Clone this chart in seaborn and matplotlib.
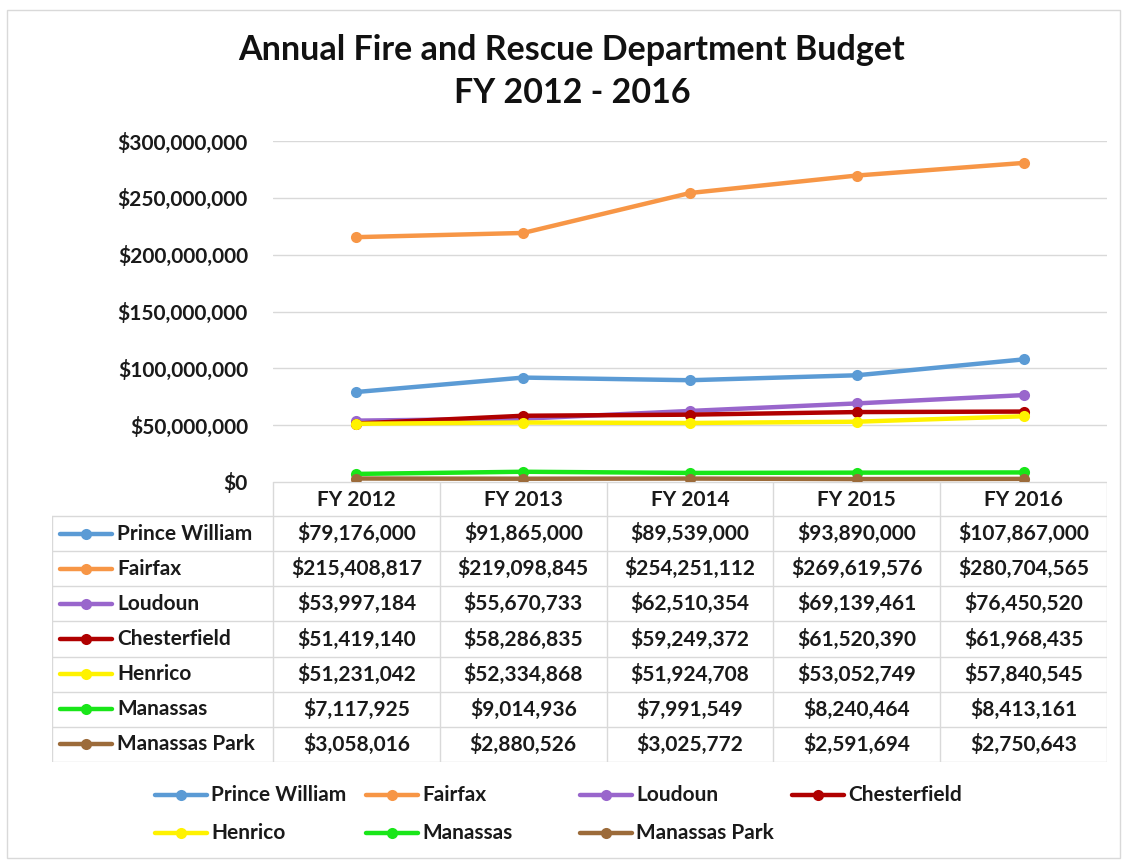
import numpy as np
import pandas as pd
import matplotlib
matplotlib.use('Agg')
import matplotlib.pyplot as plt
import seaborn as sns
from matplotlib.lines import Line2D
from matplotlib.patches import Rectangle
from matplotlib.ticker import FuncFormatter

years = ['FY 2012', 'FY 2013', 'FY 2014', 'FY 2015', 'FY 2016']
counties = ['Prince William', 'Fairfax', 'Loudoun', 'Chesterfield', 'Henrico', 'Manassas', 'Manassas Park']
prince_william = [79176000, 91865000, 89539000, 93890000, 107867000]
fairfax = [215408817, 219098845, 254251112, 269619576, 280704565]
loudoun = [53997184, 55670733, 62510354, 69139461, 76450520]
chesterfield = [51419140, 58286835, 59249372, 61520390, 61968435]
henrico = [51231042, 52334868, 51924708, 53052749, 57840545]
manassas = [7117925, 9014936, 7991549, 8240464, 8413161]
manassas_park = [3058016, 2880526, 3025772, 2591694, 2750643]
colors = ['#5B9BD5', '#F79646', '#9966CC', '#B00000', '#FFF200', '#19E619', '#9C6B3A']
yticks = [0, 50000000, 100000000, 150000000, 200000000, 250000000, 300000000]

series = [prince_william, fairfax, loudoun, chesterfield, henrico, manassas, manassas_park]
rows = []
for name, vals in zip(counties, series):
    for i, v in enumerate(vals):
        rows.append({'county': name, 'year': years[i], 'pos': i, 'budget': v})
df = pd.DataFrame(rows)

W, H = 1123, 861
def fx(x):
    return x / W
def fy(y):
    return 1 - y / H

FS = 15
TXT = '#1a1a1a'

sns.set_theme(style='white')
plt.rcParams['font.family'] = ['Lato', 'DejaVu Sans']
plt.rcParams['font.weight'] = 'bold'

fig = plt.figure(figsize=(W / 100, H / 100), dpi=100)
fig.patch.set_facecolor('white')
fig.patches.append(Rectangle((fx(7), fy(858)), fx(1120) - fx(7), fy(10) - fy(858),
                             transform=fig.transFigure, fill=False, edgecolor='#D9D9D9', lw=1))

# main chart
ax = fig.add_axes([fx(273), fy(482), fx(1107) - fx(273), fy(141) - fy(482)])
sns.lineplot(data=df, x='pos', y='budget', hue='county', hue_order=counties, palette=colors,
             marker='o', markersize=8, markeredgewidth=0, linewidth=3.2, errorbar=None,
             legend=False, ax=ax)
ax.set_xlim(-0.5, 4.5)
ax.set_ylim(0, 300000000)
ax.set_yticks(yticks)
ax.yaxis.set_major_formatter(FuncFormatter(lambda v, p: '${:,.0f}'.format(v)))
ax.set_xticks([])
ax.set_xlabel('')
ax.set_ylabel('')
ax.tick_params(axis='y', length=0, pad=18, labelsize=FS, labelcolor=TXT)
for lab in ax.get_yticklabels():
    lab.set_fontweight('bold')
ax.grid(axis='y', color='#D9D9D9', lw=1)
for s in ax.spines.values():
    s.set_visible(False)

# data table
tab = fig.add_axes([fx(52), fy(762), fx(1107) - fx(52), fy(482) - fy(762)])
tab.set_xlim(52, 1107)
tab.set_ylim(762, 482)
tab.axis('off')
gc = '#D9D9D9'
col_edges = [273 + i * (1107 - 273) / 5 for i in range(6)]
row_edges = [516 + i * (762 - 516) / 7 for i in range(8)]
tab.plot([273, 1107], [482, 482], color=gc, lw=1)
for y in row_edges:
    tab.plot([52, 1107], [y, y], color=gc, lw=1)
tab.plot([52, 52], [516, 762], color=gc, lw=1)
for x in col_edges:
    tab.plot([x, x], [482, 762], color=gc, lw=1)
for j, yr in enumerate(years):
    cx = (col_edges[j] + col_edges[j + 1]) / 2
    tab.text(cx, 500, yr, ha='center', va='center', fontsize=FS, fontweight='bold', color=TXT)
for i, (name, vals) in enumerate(zip(counties, series)):
    cy = (row_edges[i] + row_edges[i + 1]) / 2
    tab.add_line(Line2D([60, 112], [cy, cy], color=colors[i], lw=3.2))
    tab.add_line(Line2D([86], [cy], color=colors[i], marker='o', markersize=8, markeredgewidth=0))
    tab.text(117, cy, name, ha='left', va='center', fontsize=FS, fontweight='bold', color=TXT)
    for j, v in enumerate(vals):
        cx = (col_edges[j] + col_edges[j + 1]) / 2
        tab.text(cx, cy, '${:,.0f}'.format(v), ha='center', va='center', fontsize=FS,
                 fontweight='bold', color=TXT)

# legend
leg_x = [155, 366, 580, 792]
leg_y = [795, 833]
for i, name in enumerate(counties):
    x0 = leg_x[i % 4]
    y0 = leg_y[i // 4]
    fig.add_artist(Line2D([fx(x0), fx(x0 + 52)], [fy(y0), fy(y0)], color=colors[i], lw=3.2,
                          transform=fig.transFigure))
    fig.add_artist(Line2D([fx(x0 + 26)], [fy(y0)], color=colors[i], marker='o', markersize=8,
                          markeredgewidth=0, transform=fig.transFigure))
    fig.text(fx(x0 + 56), fy(y0), name, ha='left', va='center', fontsize=FS,
             fontweight='bold', color=TXT)

fig.text(fx(572), fy(50), 'Annual Fire and Rescue Department Budget', ha='center', va='center',
         fontsize=24.5, fontweight='bold', color='#111111')
fig.text(fx(572), fy(93), 'FY 2012 - 2016', ha='center', va='center',
         fontsize=24.5, fontweight='bold', color='#111111')

fig.savefig('out.png', dpi=100, facecolor='white')
